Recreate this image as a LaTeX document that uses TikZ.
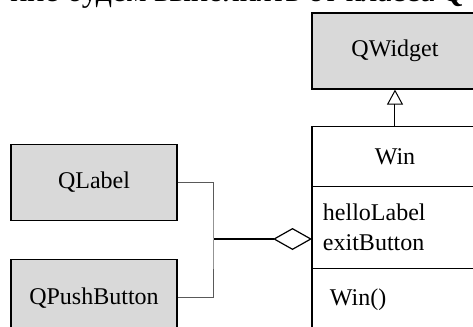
\documentclass[tikz,border=0pt]{standalone}
\usepackage{fontspec}
\setmainfont{Liberation Serif}
\usetikzlibrary{positioning}
\usetikzlibrary{arrows.meta}

\begin{document}
\begin{tikzpicture}[x=1pt, y=1pt, font=\fontsize{12}{15}\selectfont, classnode/.style={rectangle, draw=black, fill=black!15, line width=0.6pt, minimum width=83pt, minimum height=38pt, text centered}, partnode/.style={rectangle, draw=black, fill=white, line width=0.6pt, outer sep=0pt, minimum width=83pt}, textnode/.style={draw=none, fill=none, inner sep=0pt}, wire/.style={draw=black!65, line width=0.5pt}]

    \useasboundingbox (0,0) rectangle (236.5,-163.5);
    \clip (0,0) rectangle (236.5,-163.5);

    %Nodes
    \node[textnode, anchor=base east, font=\fontsize{16}{18}\selectfont](intro_text) at (233,-0.5){ние будем выполнять от класса \textbf{\textit{Q}}};

    \node[classnode](widget) at (197.5,-25.5){QWidget};
    \node[partnode, minimum height=30pt](win_name)[below=18.5pt of widget]{Win};
    \node[partnode, minimum height=41pt, text width=72pt, inner xsep=5.5pt, align=left](win_fields)[below=0pt of win_name]{helloLabel\\exitButton};
    \node[partnode, minimum height=31pt, text width=65pt, inner xsep=9pt, align=left](win_methods)[below=0pt of win_fields]{Win()};

    \node[classnode](qlabel) at (47,-91.25){QLabel};
    \node[classnode](qpushbutton)[below=19pt of qlabel]{QPushButton};

    \coordinate (bracket_mid) at (107,-119.5);

    %Lines
    \draw[-{Triangle[open, length=7.5pt, width=8pt]}, line width=0.5pt] (win_name.north) -- (widget.south);
    \draw[wire] (qlabel.east) -| (bracket_mid) |- (qpushbutton.east);
    \draw[{Diamond[open, length=19.5pt, width=11pt]}-, line width=0.6pt] (win_fields.west |- bracket_mid) -- (bracket_mid);

\end{tikzpicture}
\end{document}
